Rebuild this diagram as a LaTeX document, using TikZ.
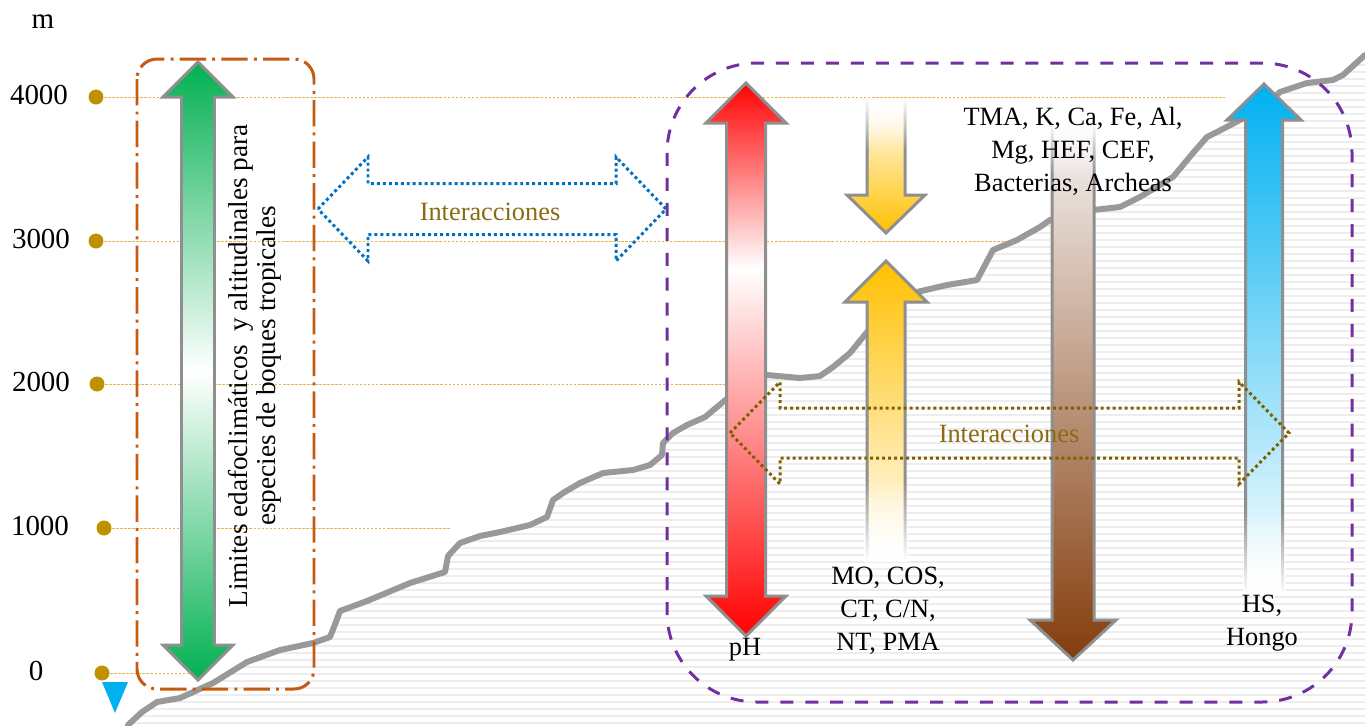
\documentclass[tikz,border=0pt]{standalone}
\usepackage{fontspec}
\setmainfont{Liberation Serif}
\usetikzlibrary{fadings}

\definecolor{oro}{HTML}{BF9000}
\definecolor{lineaoro}{HTML}{E2B84E}
\definecolor{naranja}{HTML}{C55A11}
\definecolor{morado}{HTML}{7030A0}
\definecolor{azulpunto}{HTML}{0070C0}
\definecolor{cafepunto}{HTML}{7F6000}
\definecolor{textoint}{HTML}{8A6A12}
\definecolor{verde}{HTML}{00B050}
\definecolor{amarillo}{HTML}{FFC000}
\definecolor{celeste}{HTML}{00B0F0}
\definecolor{cafe}{HTML}{843C0C}
\definecolor{cafeclaro}{HTML}{F5F3F3}
\definecolor{terreno}{HTML}{999999}
\definecolor{borde}{HTML}{8F8F8F}

% flecha doble vertical: x, arriba, abajo, medio cuerpo, media cabeza, largo cabeza
\newcommand{\flechadoble}[6]{(#1,#2) -- ({#1+#5},{#2+#6}) -- ({#1+#4},{#2+#6}) -- ({#1+#4},{#3-#6}) -- ({#1+#5},{#3-#6}) -- (#1,#3) -- ({#1-#5},{#3-#6}) -- ({#1-#4},{#3-#6}) -- ({#1-#4},{#2+#6}) -- ({#1-#5},{#2+#6}) -- cycle}
% flecha simple: x, cola, base cabeza, punta, medio cuerpo, media cabeza
\newcommand{\flecha}[6]{({#1-#5},#2) -- ({#1-#5},#3) -- ({#1-#6},#3) -- (#1,#4) -- ({#1+#6},#3) -- ({#1+#5},#3) -- ({#1+#5},#2)}
% flecha doble horizontal: punta izq, punta der, y, medio cuerpo, media cabeza, largo cabeza
\newcommand{\flechahoriz}[6]{(#1,#3) -- ({#1+#6},{#3-#5}) -- ({#1+#6},{#3-#4}) -- ({#2-#6},{#3-#4}) -- ({#2-#6},{#3-#5}) -- (#2,#3) -- ({#2-#6},{#3+#5}) -- ({#2-#6},{#3+#4}) -- ({#1+#6},{#3+#4}) -- ({#1+#6},{#3+#5}) -- cycle}

\tikzset{
  eje/.style={inner sep=0pt, font=\fontsize{16.5}{20}\selectfont},
  texto/.style={inner sep=0pt, align=center, font=\fontsize{15}{18.8}\selectfont},
  interaccion/.style={texto, text=textoint},
  guia/.style={draw=lineaoro, line width=0.5pt, dash pattern=on 1.5pt off 0.8pt},
  rayado/.style={draw=black!7, line width=1.1pt},
  linea terreno/.style={draw=terreno, line width=3.4pt, line join=round, line cap=round},
  caja naranja/.style={draw=naranja, line width=1.7pt, rounded corners=0.4cm, dash pattern=on 15pt off 3.5pt on 1.7pt off 3.5pt},
  caja morada/.style={draw=morado, line width=1.7pt, rounded corners=1.8cm, dash pattern=on 7.4pt off 6.8pt},
  contorno/.style={draw=borde, line width=1.7pt, line join=miter},
  punteada/.style={line width=1.7pt, dash pattern=on 1.7pt off 1.7pt, line join=miter},
}

\begin{document}
\begin{tikzpicture}[x=0.02cm, y=-0.02cm]
	\useasboundingbox (0,0) rectangle (1365,725);
	\def\terreno{(128,725) -- (142,712) -- (157,702) -- (180,698) -- (213,683) -- (247,662) -- (280,650) -- (313,643) -- (330,637) -- (334,627) -- (340,611) -- (367,601) -- (410,583) -- (445,572) -- (448,556) -- (460,543) -- (480,536) -- (500,532) -- (530,525) -- (547,517) -- (553,500) -- (563,493) -- (580,483) -- (603,473) -- (633,470) -- (650,465) -- (662,455) -- (663,443) -- (673,433) -- (687,425) -- (705,417) -- (723,402) -- (745,385) -- (767,375) -- (800,378) -- (820,376) -- (833,367) -- (850,353) -- (863,337) -- (890,305) -- (917,292) -- (947,285) -- (977,280) -- (993,250) -- (1017,240) -- (1040,227) -- (1050,220) -- (1072,214) -- (1093,210) -- (1120,207) -- (1140,197) -- (1173,177) -- (1193,153) -- (1207,137) -- (1217,132) -- (1240,120) -- (1265,105) -- (1280,92) -- (1307,83) -- (1333,80) -- (1343,75) -- (1365,55)}
	% rayado bajo el terreno
	\begin{scope}
		\clip \terreno -- (1365,725) -- cycle;
		\foreach \yy in {58,65,...,723} \draw[rayado] (100,\yy) -- (1365,\yy);
	\end{scope}
	% eje de altitud
	\node[eje] (m) at (43,22) {m};
	\foreach \v/\xx/\yy/\fin/\lx in {4000/96/97/1225/39, 3000/96/241/1010/41, 2000/97/384/730/41, 1000/104/528/450/40, 0/102/673/193/36} {
		\coordinate (p\v) at (\xx,\yy);
		\draw[guia] (p\v) -- (\fin,\yy);
		\fill[oro] (p\v) circle (0.15cm);
		\node[eje] (l\v) at (\lx,\yy-2) {\v};
	}
	\fill[celeste] (102,682) -- (128,682) -- (115,713) -- cycle;
	\draw[linea terreno] \terreno;
	% cajas
	\draw[caja naranja] (137,59) rectangle (314,689);
	\draw[caja morada] (667,63) rectangle (1352,702);
	% flecha verde
	\begin{scope}
		\clip \flechadoble{198}{62}{680}{16.5}{35}{35};
		\shade[top color=verde, bottom color=white] (160,60) rectangle (236,372);
		\shade[top color=white, bottom color=verde] (160,372) rectangle (236,682);
	\end{scope}
	\draw[contorno] \flechadoble{198}{62}{680}{16.5}{35}{35};
	% flecha pH
	\begin{scope}
		\clip \flechadoble{746}{83}{636}{19.5}{40}{40};
		\shade[top color=red, bottom color=white] (704,81) rectangle (788,268);
		\shade[top color=white, bottom color=red] (704,268) rectangle (788,638);
	\end{scope}
	\draw[contorno] \flechadoble{746}{83}{636}{19.5}{40}{40};
	% flechas amarillas
	\begin{scope}
		\clip \flecha{886}{100}{195}{233}{19}{39} -- cycle;
		\shade[top color=white, bottom color=amarillo] (845,100) rectangle (927,233);
	\end{scope}
	\draw[contorno] \flecha{886}{100}{195}{233}{19}{39};
	\fill[white, path fading=south] (864,98) rectangle (908,150);
	\begin{scope}
		\clip \flecha{886}{560}{302}{261}{19}{41} -- cycle;
		\shade[top color=amarillo, bottom color=white] (843,261) rectangle (929,560);
	\end{scope}
	\draw[contorno] \flecha{886}{560}{302}{261}{19}{41};
	\fill[white, path fading=north] (864,480) rectangle (908,562);
	% flecha cafe
	\begin{scope}
		\clip \flecha{1073}{125}{620}{660}{21}{43} -- cycle;
		\shade[top color=cafeclaro, bottom color=cafe] (1028,125) rectangle (1118,660);
	\end{scope}
	\draw[contorno] \flecha{1073}{125}{620}{660}{21}{43};
	\fill[white, path fading=south] (1049,123) rectangle (1097,175);
	% flecha celeste
	\begin{scope}
		\clip \flecha{1264}{592}{120}{84}{18.5}{37} -- cycle;
		\shade[top color=celeste, bottom color=white] (1225,84) rectangle (1303,592);
	\end{scope}
	\draw[contorno] \flecha{1264}{592}{120}{84}{18.5}{37};
	\fill[white, path fading=north] (1243,510) rectangle (1286,594);
	% interacciones
	\draw[punteada, azulpunto] \flechahoriz{318}{666}{209}{25.5}{52}{50};
	\node[interaccion] (int1) at (490,212) {Interacciones};
	\draw[punteada, cafepunto] \flechahoriz{730}{1289}{433}{25}{51}{50};
	\node[interaccion] (int2) at (1009,434) {Interacciones};
	% textos
	\node[texto, rotate=90, font=\fontsize{15.5}{16}\selectfont] (limites) at (255,366) {Limites edafoclimáticos\ \ y altitudinales para\\especies de boques tropicales};
	\node[texto] (ph) at (745,650) {pH};
	\node[texto] (mo) at (888,611) {MO, COS,\\CT, C/N,\\NT, PMA};
	\node[texto] (tma) at (1073,151) {TMA, K, Ca, Fe, Al,\\Mg, HEF, CEF,\\Bacterias, Archeas};
	\node[texto] (hs) at (1262,623) {HS,\\Hongo};
\end{tikzpicture}
\end{document}
